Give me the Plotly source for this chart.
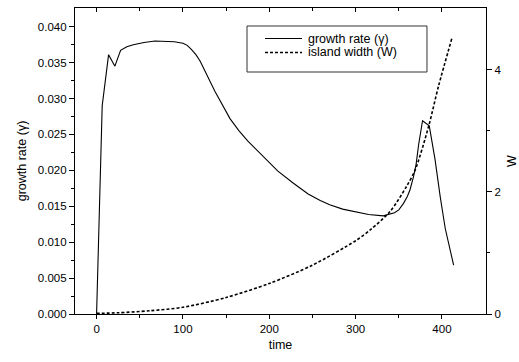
import plotly.graph_objects as go

# growth rate (left axis)
t_gamma = [0, 6.5, 13.9, 21.2, 27.8, 35, 42.5, 55, 67.6, 81, 90, 100, 105, 110, 115, 120,
           137, 154.5, 165, 175, 193, 210, 228, 245, 259, 270, 285, 297.5, 315, 332,
           340, 345, 350, 355.5, 360, 363, 367, 370, 373, 375.5, 377.5, 385.3, 392, 398,
           403.8, 413.5]
gamma = [0.0, 0.0290, 0.0361, 0.0345, 0.0367, 0.0372, 0.03749, 0.0378, 0.0380, 0.0380,
         0.0379, 0.0377, 0.0374, 0.0368, 0.0361, 0.0352,
         0.0310, 0.0272, 0.0255, 0.0241, 0.0219, 0.0199, 0.0182, 0.0167, 0.0158, 0.0152,
         0.0146, 0.0143, 0.01385, 0.01366, 0.0139, 0.0141, 0.0145, 0.0154, 0.0164, 0.0173,
         0.0191, 0.0208, 0.0236, 0.0255, 0.0269, 0.0262, 0.0215, 0.0163, 0.0119, 0.0068]

# island width (right axis)
t_w = [0, 25, 62, 100, 150, 200, 250, 300, 318, 340, 359, 369, 384.5, 396, 411.6]
w = [0.01, 0.02, 0.054, 0.11, 0.27, 0.50, 0.80, 1.20, 1.39, 1.68, 2.09, 2.36, 3.07,
     3.73, 4.52]

series_names = ["growth rate (γ)", "island width (W)"]

FONT = "Liberation Sans, Arial, sans-serif"

fig = go.Figure()
fig.add_trace(go.Scatter(x=t_gamma, y=gamma, mode="lines", name=series_names[0],
                         line=dict(color="black", width=1.1), yaxis="y"))
fig.add_trace(go.Scatter(x=t_w, y=w, mode="lines", name=series_names[1],
                         line=dict(color="black", width=1.6, dash="3px,2px",
                                   shape="spline", smoothing=0.8), yaxis="y2"))
# invisible helper for the top axis
fig.add_trace(go.Scatter(x=[0], y=[0], xaxis="x2", yaxis="y", showlegend=False,
                         mode="markers", marker=dict(opacity=0), hoverinfo="skip"))

# legend (frame, samples, labels)
row_y = [0.9003, 0.8546]
fig.add_shape(type="rect", xref="paper", yref="paper",
              x0=0.4185, x1=0.8564, y0=0.7908, y1=0.9412,
              line=dict(color="#333", width=1), fillcolor="white", layer="above")
fig.add_shape(type="line", xref="paper", yref="paper", x0=0.4623, x1=0.5523,
              y0=row_y[0], y1=row_y[0], line=dict(color="black", width=1.1), layer="above")
fig.add_shape(type="line", xref="paper", yref="paper", x0=0.4623, x1=0.5523,
              y0=row_y[1], y1=row_y[1], line=dict(color="black", width=1.3, dash="3px,2px"),
              layer="above")
for name, yy in zip(series_names, row_y):
    fig.add_annotation(xref="paper", yref="paper", x=0.5645, y=yy, text=name,
                       showarrow=False, xanchor="left", yanchor="middle",
                       borderpad=0,
                       font=dict(size=12.5, family=FONT, color="black"))

fig.update_layout(
    width=519, height=362,
    margin=dict(l=75, r=33, t=8, b=48),
    paper_bgcolor="white", plot_bgcolor="white",
    font=dict(family=FONT, size=12, color="black"),
    showlegend=False,
    xaxis=dict(range=[-25, 451], tickvals=[0, 100, 200, 300, 400], automargin=False,
               ticks="outside", ticklen=4, tickwidth=1, tickcolor="black",
               minor=dict(tickvals=[50, 150, 250, 350], ticks="outside", ticklen=2.5, tickcolor="black"),
               showline=True, linecolor="black", linewidth=1.2, showgrid=False, zeroline=False,
               tickfont=dict(size=11.5),
               title=dict(text="time", font=dict(size=12.5), standoff=6)),
    xaxis2=dict(range=[-25, 451], overlaying="x", side="top", tickvals=[0, 100, 200, 300, 400],
                automargin=False,
                ticks="inside", ticklen=4, tickcolor="black", showticklabels=False,
                minor=dict(tickvals=[50, 150, 250, 350], ticks="inside", ticklen=2.5, tickcolor="black"),
                showline=True, linecolor="black", linewidth=1.2, showgrid=False, zeroline=False),
    yaxis=dict(range=[0, 0.0426], tickvals=[0, 0.005, 0.01, 0.015, 0.02, 0.025, 0.03, 0.035, 0.04],
               automargin=False,
               tickformat=".3f", ticks="outside", ticklen=5, tickcolor="black",
               minor=dict(tickvals=[0.0025, 0.0075, 0.0125, 0.0175, 0.0225, 0.0275, 0.0325, 0.0375],
                          ticks="outside", ticklen=3, tickcolor="black"),
               showline=True, linecolor="black", linewidth=1.2, showgrid=False, zeroline=False,
               tickfont=dict(size=11.5),
               title=dict(text="growth rate (γ)", font=dict(size=12.5), standoff=8)),
    yaxis2=dict(range=[0, 5.01], overlaying="y", side="right", tickvals=[0, 2, 4],
                automargin=False,
                ticks="outside", ticklen=5, tickcolor="black",
                minor=dict(tickvals=[1, 3], ticks="outside", ticklen=3, tickcolor="black"),
                showline=True, linecolor="black", linewidth=1.2, showgrid=False, zeroline=False,
                tickfont=dict(size=11.5),
                title=dict(text="W", font=dict(size=12.5), standoff=8)),
)

fig.write_html("out.html", config={"displayModeBar": False},
               post_script="document.body.style.margin='0px';")
